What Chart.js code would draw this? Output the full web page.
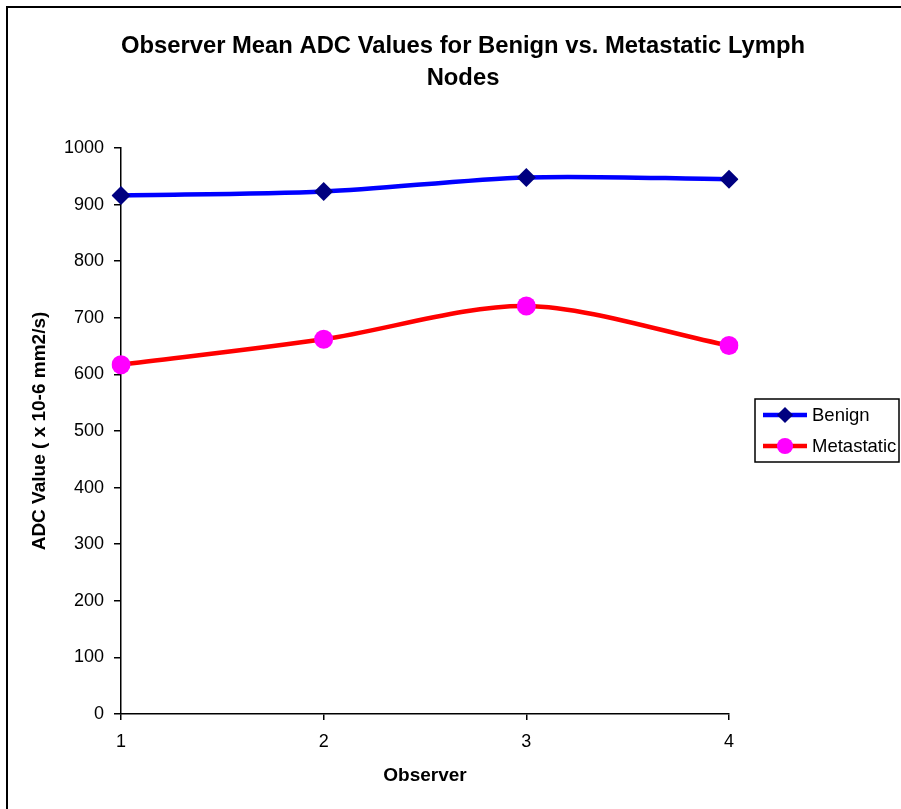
<!DOCTYPE html>
<html>
<head>
<meta charset="utf-8">
<script src="https://cdn.jsdelivr.net/npm/chart.js@4"></script>
<style>
  html, body { margin: 0; padding: 0; background: #fff; }
  #wrap { width: 901px; height: 809px; position: relative; }
</style>
</head>
<body>
<div id="wrap"><canvas id="c" width="901" height="809"></canvas></div>
<script>
const titleLines = ['Observer Mean ADC Values for Benign vs. Metastatic Lymph', 'Nodes'];
const observers = ['1', '2', '3', '4'];
const benign = [916, 923, 948, 945];
const metastatic = [617, 662, 721, 651];
const yTicks = [0, 100, 200, 300, 400, 500, 600, 700, 800, 900, 1000];
const xTitle = 'Observer';
const yTitle = 'ADC Value ( x 10-6 mm2/s)';

const FONT = "'Liberation Sans', Arial, sans-serif";

const framePlugin = {
  id: 'frame',
  beforeDraw(chart) {
    const ctx = chart.ctx;
    ctx.save();
    ctx.fillStyle = '#fff';
    ctx.fillRect(0, 0, chart.width, chart.height);
    ctx.strokeStyle = '#000';
    ctx.lineWidth = 2;
    ctx.strokeRect(7, 7, 3000, 3000);
    ctx.restore();
  },
  afterDraw(chart) {
    const ctx = chart.ctx;
    ctx.save();
    // title
    ctx.fillStyle = '#000';
    ctx.font = "bold 23.8px " + FONT;
    ctx.textAlign = 'center';
    ctx.textBaseline = 'middle';
    titleLines.forEach((t, i) => ctx.fillText(t, 463, 46 + i * 32));
    // legend
    const bx = 755, by = 399, bw = 144, bh = 63;
    ctx.lineWidth = 1.5;
    ctx.strokeStyle = '#000';
    ctx.strokeRect(bx, by, bw, bh);
    const rows = [415, 446];
    chart.data.datasets.forEach((ds, i) => {
      const y = rows[i];
      ctx.strokeStyle = ds.borderColor;
      ctx.lineWidth = ds.borderWidth;
      ctx.beginPath();
      ctx.moveTo(763, y);
      ctx.lineTo(807, y);
      ctx.stroke();
      ctx.fillStyle = ds.pointBackgroundColor;
      ctx.beginPath();
      const r = ds.pointRadius * 0.85;
      if (ds.pointStyle === 'circle') {
        ctx.arc(785, y, r, 0, Math.PI * 2);
      } else {
        ctx.moveTo(785 - r, y); ctx.lineTo(785, y - r); ctx.lineTo(785 + r, y); ctx.lineTo(785, y + r); ctx.closePath();
      }
      ctx.fill();
      ctx.fillStyle = '#000';
      ctx.font = "18.5px " + FONT;
      ctx.textAlign = 'left';
      ctx.fillText(ds.label, 812, y + 1);
    });
    ctx.restore();
  }
};

new Chart(document.getElementById('c'), {
  type: 'line',
  data: {
    labels: observers,
    datasets: [
      {
        label: 'Benign',
        data: benign,
        borderColor: '#0000FF',
        borderWidth: 4.5,
        pointStyle: 'rectRot',
        pointRadius: 9.5,
        pointHoverRadius: 9.5,
        pointBackgroundColor: '#000080',
        pointBorderColor: '#000080',
        pointBorderWidth: 0,
        tension: 0.3,
        fill: false
      },
      {
        label: 'Metastatic',
        data: metastatic,
        borderColor: '#FF0000',
        borderWidth: 4.5,
        pointStyle: 'circle',
        pointRadius: 9.5,
        pointHoverRadius: 9.5,
        pointBackgroundColor: '#FF00FF',
        pointBorderColor: '#FF00FF',
        pointBorderWidth: 0,
        tension: 0.3,
        fill: false
      }
    ]
  },
  options: {
    responsive: false,
    animation: false,
    devicePixelRatio: 1,
    layout: { padding: { left: 0, right: 172, top: 148, bottom: 0 } },
    plugins: {
      legend: { display: false },
      title: { display: false },
      tooltip: { enabled: false }
    },
    scales: {
      x: {
        type: 'category',
        offset: false,
        grid: { drawOnChartArea: false, drawTicks: true, tickLength: 6, color: '#000', lineWidth: 1.5 },
        border: { display: true, color: '#000', width: 1.5 },
        ticks: { color: '#000', font: { family: FONT, size: 18 }, padding: 11, maxRotation: 0 },
        title: { display: true, text: xTitle, color: '#000', font: { family: FONT, size: 19, weight: 'bold' }, padding: { top: 0, bottom: 21.6 } },
        afterFit(scale) { scale.height = 95; }
      },
      y: {
        min: 0,
        max: 1000,
        afterBuildTicks(scale) { scale.ticks = yTicks.map(v => ({ value: v })); },
        grid: { drawOnChartArea: false, drawTicks: true, tickLength: 7, color: '#000', lineWidth: 1.5 },
        border: { display: true, color: '#000', width: 1.5 },
        ticks: { color: '#000', font: { family: FONT, size: 18 }, padding: 10, callback: (v) => String(v) },
        title: { display: true, text: yTitle, color: '#000', font: { family: FONT, size: 19, weight: 'bold' }, padding: { top: 28.6, bottom: 0 } },
        afterFit(scale) { scale.width = 121; }
      }
    }
  },
  plugins: [framePlugin]
});
</script>
</body>
</html>
